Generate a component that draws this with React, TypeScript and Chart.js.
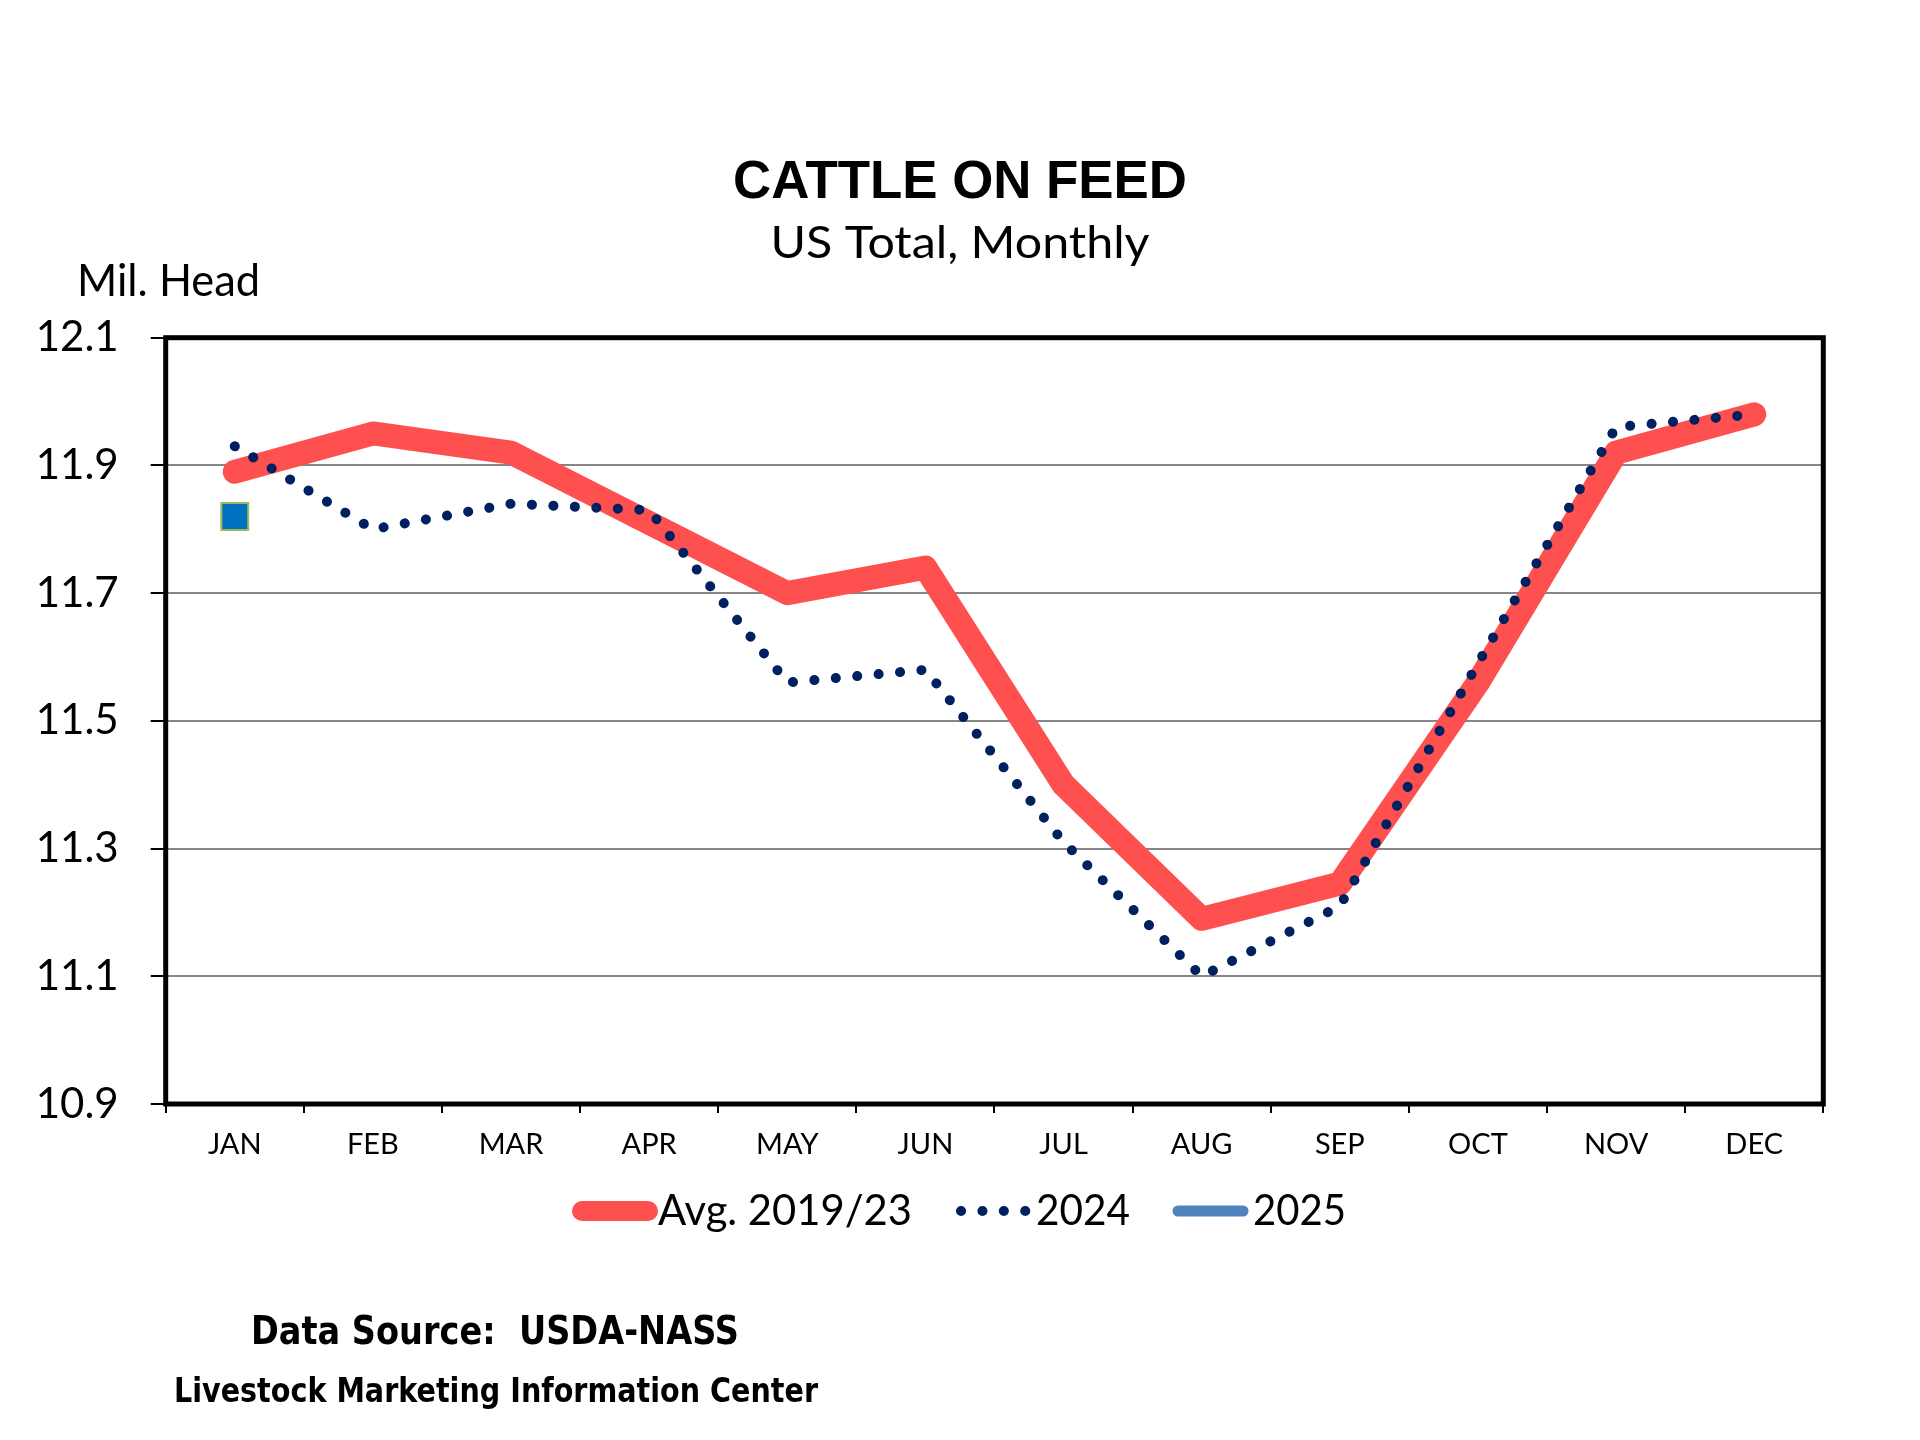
import { useEffect, useRef } from "react";
import { Chart, registerables } from "chart.js";

Chart.register(...registerables);

// Data (million head, first of month)
const months = ["JAN", "FEB", "MAR", "APR", "MAY", "JUN", "JUL", "AUG", "SEP", "OCT", "NOV", "DEC"];
const avg2019to23 = [11.89, 11.95, 11.92, 11.81, 11.7, 11.74, 11.4, 11.19, 11.245, 11.56, 11.92, 11.98];
const values2024 = [11.93, 11.8, 11.84, 11.83, 11.56, 11.58, 11.31, 11.1, 11.21, 11.59, 11.96, 11.98];
const values2025 = [11.82, null, null, null, null, null, null, null, null, null, null, null];
const seriesLabels = ["Avg. 2019/23", "2024", "2025"];

const Y_MIN = 10.9;
const Y_MAX = 12.1;
const Y_STEP = 0.2;

const RED = "#FF5050";
const NAVY = "#002060";
const BLUE = "#0070C0";
const GREEN = "#9BBB59";
const LEGEND_BLUE = "#4F81BD";

const CALIBRI = "Lato, 'Open Sans', sans-serif";
const ARIAL = "'Liberation Sans', Arial, sans-serif";
const TAHOMA = "'DejaVu Sans', Verdana, sans-serif";

// draws text squeezed/stretched horizontally to a given width
const fitText = (
  ctx: CanvasRenderingContext2D,
  text: string,
  font: string,
  x: number,
  y: number,
  width: number,
  align: CanvasTextAlign
) => {
  ctx.save();
  ctx.font = font;
  ctx.fillStyle = "#000";
  ctx.textAlign = align;
  ctx.textBaseline = "alphabetic";
  const k = width / ctx.measureText(text).width;
  ctx.translate(x, y);
  ctx.scale(k, 1);
  ctx.fillText(text, 0, 0);
  ctx.restore();
};

const decorPlugin = {
  id: "decor",
  afterDatasetsDraw(chart: any) {
    const { ctx, chartArea: a } = chart;
    ctx.save();
    ctx.strokeStyle = "#000";
    ctx.lineWidth = 5;
    ctx.strokeRect(a.left, a.top, a.right - a.left, a.bottom - a.top);
    ctx.restore();
  },
  afterDraw(chart: any) {
    const ctx: CanvasRenderingContext2D = chart.ctx;

    // titles
    fitText(ctx, "CATTLE ON FEED", `bold 53px ${ARIAL}`, 960, 198, 454, "center");
    fitText(ctx, "US Total, Monthly", `44px ${CALIBRI}`, 960, 258, 379, "center");
    fitText(ctx, "Mil. Head", `44px ${CALIBRI}`, 77, 296, 183, "left");

    // legend samples
    ctx.save();
    ctx.lineCap = "round";
    ctx.strokeStyle = RED;
    ctx.lineWidth = 20;
    ctx.beginPath();
    ctx.moveTo(582, 1211);
    ctx.lineTo(648, 1211);
    ctx.stroke();

    ctx.strokeStyle = NAVY;
    ctx.lineWidth = 10;
    ctx.setLineDash([0.1, 21.3]);
    ctx.beginPath();
    ctx.moveTo(961, 1211);
    ctx.lineTo(1027, 1211);
    ctx.stroke();
    ctx.setLineDash([]);

    ctx.strokeStyle = LEGEND_BLUE;
    ctx.lineWidth = 11;
    ctx.beginPath();
    ctx.moveTo(1178, 1211);
    ctx.lineTo(1243, 1211);
    ctx.stroke();
    ctx.restore();

    fitText(ctx, seriesLabels[0], `42px ${CALIBRI}`, 658, 1225, 254, "left");
    fitText(ctx, seriesLabels[1], `42px ${CALIBRI}`, 1036, 1225, 94, "left");
    fitText(ctx, seriesLabels[2], `42px ${CALIBRI}`, 1253, 1225, 93, "left");

    // footer
    fitText(ctx, "Data Source:  USDA-NASS", `bold 39px ${TAHOMA}`, 495, 1344, 488, "center");
    fitText(ctx, "Livestock Marketing Information Center", `bold 33px ${TAHOMA}`, 496, 1402, 644, "center");
  },
};

export default function App() {
  const chartRef = useRef<HTMLCanvasElement>(null);
  const chartInstance = useRef<Chart | null>(null);

  useEffect(() => {
    document.body.style.margin = "0";
    if (!chartRef.current) return;

    const config: any = {
      type: "line",
      data: {
        labels: months,
        datasets: [
          {
            label: seriesLabels[2],
            data: values2025,
            order: 0,
            showLine: false,
            pointStyle: "rect",
            pointRadius: 19,
            pointBackgroundColor: BLUE,
            pointBorderColor: GREEN,
            pointBorderWidth: 2,
          },
          {
            label: seriesLabels[1],
            data: values2024,
            order: 1,
            borderColor: NAVY,
            borderWidth: 10,
            borderDash: [0.1, 21.4],
            borderCapStyle: "round",
            borderJoinStyle: "round",
            pointRadius: 0,
            tension: 0,
          },
          {
            label: seriesLabels[0],
            data: avg2019to23,
            order: 2,
            borderColor: RED,
            borderWidth: 24,
            borderCapStyle: "round",
            borderJoinStyle: "round",
            pointRadius: 0,
            tension: 0,
          },
        ],
      },
      options: {
        responsive: false,
        animation: false,
        devicePixelRatio: 1,
        layout: {
          padding: { left: 0, right: 96.7, top: 337.7, bottom: 276 },
        },
        plugins: {
          legend: { display: false },
          title: { display: false },
          tooltip: { enabled: false },
        },
        scales: {
          x: {
            type: "category",
            offset: true,
            afterFit: (scale: any) => {
              scale.height = 60;
            },
            grid: {
              display: true,
              offset: true,
              drawOnChartArea: false,
              drawTicks: true,
              tickLength: 9,
              color: "#000",
              lineWidth: 2,
            },
            border: { display: false },
            ticks: {
              autoSkip: false,
              maxRotation: 0,
              color: "#000",
              padding: 14,
              font: { family: CALIBRI, size: 29 },
            },
          },
          y: {
            min: Y_MIN,
            max: Y_MAX,
            afterFit: (scale: any) => {
              scale.width = 165.7;
            },
            grid: {
              color: "#868686",
              lineWidth: 2,
              tickColor: "#000",
              tickLength: 15,
            },
            border: { display: false },
            ticks: {
              stepSize: Y_STEP,
              color: "#000",
              padding: 32,
              font: { family: CALIBRI, size: 42 },
              callback: (v: any) => Number(v).toFixed(1),
            },
          },
        },
      },
      plugins: [decorPlugin],
    };

    if (chartInstance.current) {
      chartInstance.current.destroy();
    }
    chartInstance.current = new Chart(chartRef.current, config);

    return () => {
      if (chartInstance.current) {
        chartInstance.current.destroy();
        chartInstance.current = null;
      }
    };
  }, []);

  return (
    <div style={{ width: 1920, height: 1440, background: "#fff" }}>
      <canvas ref={chartRef} width={1920} height={1440} />
    </div>
  );
}
